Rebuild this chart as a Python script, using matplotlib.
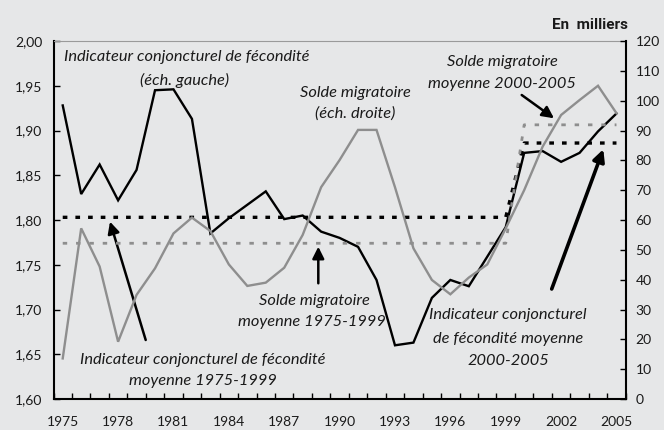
import matplotlib
matplotlib.use("Agg")
import matplotlib.pyplot as plt
from matplotlib.ticker import FixedLocator, FuncFormatter

# ---------------- data ----------------
years = list(range(1975, 2006))
icf = [1.928, 1.829, 1.862, 1.822, 1.856, 1.945, 1.946, 1.913, 1.785, 1.802,
       1.817, 1.832, 1.801, 1.805, 1.787, 1.780, 1.770, 1.733, 1.660, 1.663,
       1.713, 1.733, 1.726, 1.759, 1.792, 1.875, 1.877, 1.865, 1.875, 1.899,
       1.919]
solde = [13.6, 57.2, 44.4, 19.2, 34.9, 43.8, 55.5, 60.8, 56.3, 45.1,
         37.9, 39.0, 44.0, 55.0, 71.0, 80.1, 90.2, 90.2, 71.0, 50.5,
         39.9, 35.1, 40.7, 45.1, 57.2, 70.0, 84.6, 95.2, 100.2, 105.0,
         95.8]
period_split = 2000
icf_means = [1.803, 1.886]      # 1975-1999, 2000-2005
solde_means = [52.2, 91.9]      # 1975-1999, 2000-2005
xtick_labels = [str(y) for y in range(1975, 2006, 3)]
left_ticks = [1.60, 1.65, 1.70, 1.75, 1.80, 1.85, 1.90, 1.95, 2.00]
right_ticks = list(range(0, 121, 10))

icf_mean_series = [icf_means[0] if y < period_split else icf_means[1] for y in years]
solde_mean_series = [solde_means[0] if y < period_split else solde_means[1] for y in years]

# ---------------- style ----------------
BG = "#e6e7e8"
GRAY = "#8e8e8e"
W, H = 664, 430
FONT = "Lato"

fig = plt.figure(figsize=(W / 100, H / 100), dpi=100, facecolor=BG)
ax = fig.add_axes([53.5 / W, 1 - 399 / H, (625.7 - 53.5) / W, (399 - 41) / H])
ax.set_facecolor(BG)
ax2 = ax.twinx()

# main series
ax.plot(years, icf, color="black", lw=1.7, zorder=5, solid_joinstyle="miter")
ax2.plot(years, solde, color=GRAY, lw=1.7, zorder=4, solid_joinstyle="miter")

# mean lines
ax.plot(years, icf_mean_series, color="black", lw=2.4, dashes=(1.4, 2.4), zorder=3)
ax2.plot(years, solde_mean_series, color=GRAY, lw=2.0, dashes=(1.6, 3.2), zorder=3)

ax.set_xlim(1974.5, 2005.5)
ax.set_ylim(1.60, 2.00)
ax2.set_ylim(0, 120)

# spines
for s in ["left", "bottom"]:
    ax.spines[s].set_color("black")
    ax.spines[s].set_linewidth(1.5)
ax.spines["top"].set_color("#9a9a9a")
ax.spines["top"].set_linewidth(0.8)
ax.spines["right"].set_visible(False)
for s in ["left", "bottom", "top"]:
    ax2.spines[s].set_visible(False)
ax2.spines["right"].set_color("black")
ax2.spines["right"].set_linewidth(1.5)

# ticks
ax.xaxis.set_major_locator(FixedLocator(list(range(1975, 2006, 3))))
ax.set_xticklabels(xtick_labels)
ax.xaxis.set_minor_locator(FixedLocator([y - 0.5 for y in years] + [2005.5]))
ax.tick_params(axis="x", which="major", length=0, pad=12, labelsize=10)
ax.tick_params(axis="x", which="minor", direction="in", length=4, width=1.0, color="black")

ax.yaxis.set_major_locator(FixedLocator(left_ticks))
ax.yaxis.set_major_formatter(FuncFormatter(lambda v, p: f"{v:.2f}".replace(".", ",")))
ax.tick_params(axis="y", direction="in", length=4, width=1.0, pad=8, labelsize=10)

ax2.yaxis.set_major_locator(FixedLocator(right_ticks))
ax2.tick_params(axis="y", direction="in", length=4, width=1.0, pad=7, labelsize=10)

for lab in ax.get_xticklabels() + ax.get_yticklabels() + ax2.get_yticklabels():
    lab.set_fontfamily(FONT)
    lab.set_color("#1a1a1a")

# ---------------- annotations ----------------
def fp(x, y):
    return (x / W, 1 - y / H)

TS = 11.8
def txt(x, y, s):
    fig.text(*fp(x, y), s, ha="center", va="center", fontsize=TS,
             fontstyle="italic", family=FONT, color="#1a1a1a")

txt(187, 57, "Indicateur conjoncturel de fécondité")
txt(185, 80, "(éch. gauche)")
txt(355, 93, "Solde migratoire")
txt(355, 114, "(éch. droite)")
txt(502, 62, "Solde migratoire")
txt(502, 84, "moyenne 2000-2005")
txt(314, 301, "Solde migratoire")
txt(312, 322, "moyenne 1975-1999")
txt(203, 360, "Indicateur conjoncturel de fécondité")
txt(203, 381, "moyenne 1975-1999")
txt(508, 315, "Indicateur conjoncturel")
txt(508, 339, "de fécondité moyenne")
txt(508, 361, "2000-2005")

def arrow(tail, head, lw=1.6, hw=5, hl=7):
    ax.annotate("", xy=fp(*head), xycoords="figure fraction",
                xytext=fp(*tail), textcoords="figure fraction",
                arrowprops=dict(arrowstyle=f"-|>,head_width={hw/10:.2f},head_length={hl/10:.2f}",
                                color="black", lw=lw, shrinkA=0, shrinkB=0),
                zorder=10)

arrow((521.7, 95), (554, 118.3), lw=1.8, hw=3.5, hl=7)
arrow((318.3, 283.3), (318.3, 246.7), lw=1.8, hw=3.5, hl=7)
arrow((145.7, 340), (110, 221.7), lw=1.8, hw=3.5, hl=7)
arrow((551.7, 289), (603.3, 149.3), lw=2.6, hw=3.5, hl=7)

fig.text(628 / W, 1 - 25 / H, "En  milliers", ha="right", va="center",
         fontsize=11, fontweight="bold", family=["Liberation Sans Narrow", "Roboto"], color="#1a1a1a")

fig.savefig("out.png", dpi=100, facecolor=BG)
